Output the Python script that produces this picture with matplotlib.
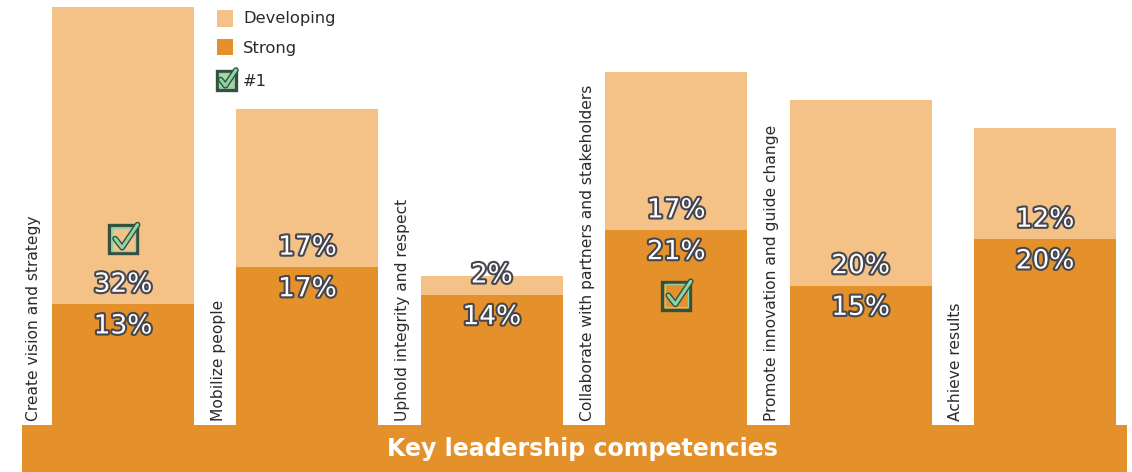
import matplotlib
matplotlib.use("Agg")
import matplotlib.pyplot as plt
import matplotlib.patheffects as pe
from matplotlib.patches import Rectangle
import numpy as np

# ---- data ----
competencies = [
    "Create vision and strategy",
    "Mobilize people",
    "Uphold integrity and respect",
    "Collaborate with partners and stakeholders",
    "Promote innovation and guide change",
    "Achieve results",
]
strong = [13, 17, 14, 21, 15, 20]
developing = [32, 17, 2, 17, 20, 12]
series_names = ["Developing", "Strong"]
top_label = "#1"
banner_title = "Key leadership competencies"

# ---- styling ----
DEV_COLOR = "#F4C286"
STRONG_COLOR = "#E5912B"
CHECK_DARK = "#34503F"
CHECK_LIGHT = "#8FD3A6"
TEXT_DARK = "#2B2B2B"
FONT = "DejaVu Sans"

W, H = 1132, 472
fig = plt.figure(figsize=(W / 100, H / 100), dpi=100)
fig.patch.set_facecolor("white")

# bar axes: baseline sits on the banner, tallest stack reaches the top
base_px, top_px = 425, 7
ax = fig.add_axes([0, (H - base_px) / H, 1, (base_px - top_px) / H])
ax.set_facecolor("none")
first_center, step = 123, 184.4
ax.set_xlim(-first_center / step, (W - first_center) / step)
totals = np.array(strong) + np.array(developing)
ax.set_ylim(0, totals.max())
ax.axis("off")

x = np.arange(len(competencies))
bar_w = 142 / step
ax.bar(x, strong, width=bar_w, color=STRONG_COLOR, linewidth=0, zorder=2)
ax.bar(x, developing, width=bar_w, bottom=strong, color=DEV_COLOR, linewidth=0, zorder=2)

# overlay in pixel units (y grows downward) for banner, legend and icons
pax = fig.add_axes([0, 0, 1, 1], zorder=5)
pax.set_facecolor("none")
pax.set_xlim(0, W)
pax.set_ylim(H, 0)
pax.axis("off")


def to_px(xv, yv):
    return pax.transData.inverted().transform(ax.transData.transform((xv, yv)))


def draw_check(cx, cy, s, fill="none"):
    half = s / 2
    pax.add_patch(Rectangle((cx - half, cy - half), s, s, facecolor=fill,
                            edgecolor=CHECK_DARK, lw=2.4, zorder=6))
    pax.add_patch(Rectangle((cx - half + 2.5, cy - half + 2.5), s - 5, s - 5,
                            facecolor="none", edgecolor=CHECK_LIGHT, lw=1.0, zorder=6))
    xs = [cx - 0.28 * s, cx - 0.03 * s, cx + 0.52 * s]
    ys = [cy - 0.02 * s, cy + 0.30 * s, cy - 0.52 * s]
    pax.plot(xs, ys, color=CHECK_LIGHT, lw=2.2, solid_capstyle="round",
             solid_joinstyle="round", zorder=7,
             path_effects=[pe.Stroke(linewidth=4.2, foreground=CHECK_DARK), pe.Normal()])


# banner
pax.add_patch(Rectangle((22, 425), 1105, H - 425, facecolor=STRONG_COLOR,
                        edgecolor="none", zorder=1))
pax.text(582, 449, banner_title, color="white", fontsize=17, fontweight="bold",
         family=FONT, ha="center", va="center", zorder=2)

# value labels with a dark outline
outline = [pe.withStroke(linewidth=3, foreground="#45464F")]
for i in x:
    ax.annotate(f"{developing[i]}%", (i, strong[i]), xytext=(0, 14),
                textcoords="offset points", ha="center", va="center",
                fontsize=19, color="white", family=FONT, path_effects=outline, zorder=4)
    ax.annotate(f"{strong[i]}%", (i, strong[i]), xytext=(0, -16),
                textcoords="offset points", ha="center", va="center",
                fontsize=19, color="white", family=FONT, path_effects=outline, zorder=4)
    # category name, rotated, in the gap left of each bar
    ax.annotate(competencies[i], (i - bar_w / 2, 0), xytext=(-13, 3),
                textcoords="offset points", ha="center", va="bottom",
                rotation=90, fontsize=11.2, color=TEXT_DARK, family=FONT, zorder=4)

# mark the top value of each series with a check box
best_dev = int(np.argmax(developing))
best_strong = int(np.argmax(strong))
bx, by = to_px(best_dev, strong[best_dev])
draw_check(bx, by - 65, 28)
bx, by = to_px(best_strong, strong[best_strong])
draw_check(bx, by + 66, 28)

# legend
pax.add_patch(Rectangle((217, 10), 16, 17, facecolor=DEV_COLOR, edgecolor="none"))
pax.add_patch(Rectangle((217, 39), 16, 16, facecolor=STRONG_COLOR, edgecolor="none"))
draw_check(226, 80, 19, fill="#A9D8A8")
for label, ly in zip(series_names + [top_label], [19, 48, 81]):
    pax.text(243, ly, label, fontsize=11.8, color=TEXT_DARK, family=FONT,
             ha="left", va="center")

fig.savefig("out.png", dpi=100, facecolor="white")
